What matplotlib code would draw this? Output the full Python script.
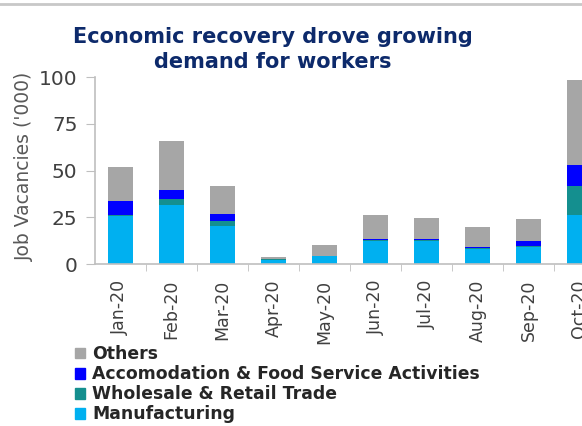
import numpy as np
import matplotlib.pyplot as plt
from matplotlib.patches import Patch
from matplotlib.lines import Line2D

# Job vacancies by sector, thousands
months = ['Jan-20', 'Feb-20', 'Mar-20', 'Apr-20', 'May-20', 'Jun-20',
          'Jul-20', 'Aug-20', 'Sep-20', 'Oct-20']
manufacturing = [25.8, 31.7, 20.6, 2.2, 4.1, 12.5, 12.5, 8.2, 9.4, 26.4]
wholesale = [0.5, 3.2, 2.2, 0.3, 0.0, 0.3, 0.3, 0.3, 0.3, 15.5]
accomodation = [7.2, 4.8, 3.9, 0.3, 0.2, 0.6, 0.6, 0.6, 2.8, 11.0]
others = [18.2, 25.9, 15.3, 1.2, 5.7, 12.6, 11.2, 10.5, 11.6, 45.3]

series = [
    ('Manufacturing', manufacturing, '#00b0f0'),
    ('Wholesale & Retail Trade', wholesale, '#148f8f'),
    ('Accomodation & Food Service Activities', accomodation, '#0000ff'),
    ('Others', others, '#a6a6a6'),
]

fig = plt.figure(figsize=(5.82, 4.26), dpi=100)
ax = fig.add_axes([0.163, 0.38, 0.837, 0.439])

x = np.arange(len(months))
bottom = np.zeros(len(months))
for name, vals, color in series:
    ax.bar(x, vals, width=0.5, bottom=bottom, color=color, label=name)
    bottom += np.array(vals)

ax.set_xticks(x)
ax.set_xticklabels(months, rotation=90)
ax.set_xticks(np.arange(len(months)) + 0.5, minor=True)
ax.set_xlim(-0.5, -0.5 + 487 / 51)
ax.set_ylim(0, 100)
ax.set_yticks([0, 25, 50, 75, 100])
ax.tick_params(axis='x', which='major', length=0, pad=11, labelsize=12.5,
               labelcolor='#404040')
ax.tick_params(axis='x', which='minor', length=5, color='#bfbfbf')
ax.tick_params(axis='y', length=6.5, color='#bfbfbf', labelsize=14.5,
               labelcolor='#404040', pad=6)

for side in ['top', 'right']:
    ax.spines[side].set_visible(False)
for side in ['left', 'bottom']:
    ax.spines[side].set_color('#bfbfbf')
    ax.spines[side].set_linewidth(1.2)

ax.set_ylabel("Job Vacancies ('000)", fontsize=13.5, color='#595959')
ax.yaxis.set_label_coords(-0.125, 0.52)

fig.text(0.469, 0.884, 'Economic recovery drove growing\ndemand for workers',
         ha='center', va='center', fontsize=15, fontweight='bold',
         color='#0d2a6b', linespacing=1.3)

# thin border line along the top
fig.add_artist(Line2D([0, 1], [0.99, 0.99], color='#c8c8c8', linewidth=2))

handles = [Patch(color=c, label=n) for n, v, c in series[::-1]]
leg = fig.legend(handles=handles, loc='upper left',
                 bbox_to_anchor=(0.129, 0.19), frameon=False,
                 prop={'weight': 'bold', 'size': 12.4},
                 handlelength=0.6, handleheight=0.6, handletextpad=0.4,
                 labelspacing=0.12, borderaxespad=0, borderpad=0)
for t in leg.get_texts():
    t.set_color('#262626')

fig.savefig('out.png', dpi=100)
